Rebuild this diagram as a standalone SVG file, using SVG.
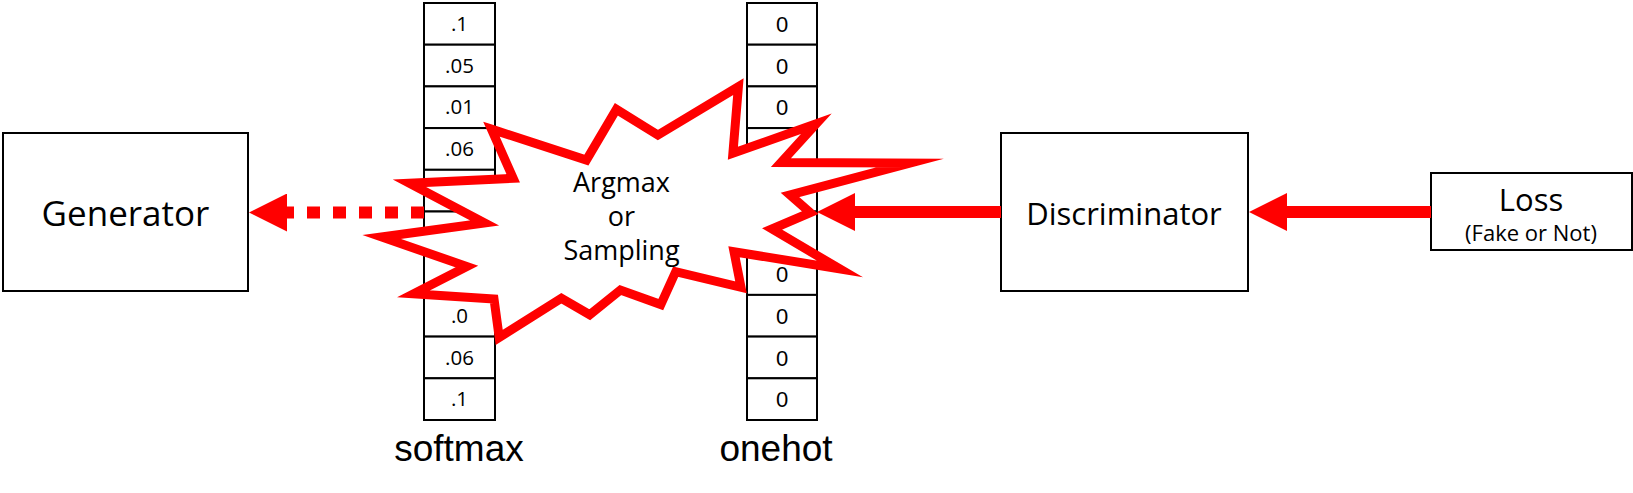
<svg xmlns="http://www.w3.org/2000/svg" width="1633" height="493" viewBox="0 0 1633 493">
<style>
.box{fill:#fff;stroke:#000;stroke-width:2}
.cell{fill:#fff;stroke:#000;stroke-width:2}
.seg{font-family:"Open Sans","Noto Sans",sans-serif;fill:#000;text-anchor:middle}
.ari{font-family:"Liberation Sans",Arial,sans-serif;fill:#000;text-anchor:middle}
.burst{fill:#fff;stroke:#ff0000;stroke-width:9;stroke-linejoin:miter;stroke-miterlimit:20}
.conn{stroke:#ff0000;stroke-width:12;fill:none}
</style>
<defs>
<marker id="ah" markerUnits="userSpaceOnUse" markerWidth="38" markerHeight="38" refX="0" refY="19" orient="auto" viewBox="0 0 38 38">
<path d="M0,0 L38,19 L0,38 z" fill="#ff0000"/>
</marker>
</defs>

<g id="generator">
<rect class="box" x="3" y="133" width="245" height="158"/>
<text class="seg" x="125.5" y="226" font-size="35">Generator</text>
</g>

<g id="softmax">
<rect class="cell" x="424" y="3" width="71" height="41.7"/>
<rect class="cell" x="424" y="44.7" width="71" height="41.7"/>
<rect class="cell" x="424" y="86.4" width="71" height="41.7"/>
<rect class="cell" x="424" y="128.1" width="71" height="41.7"/>
<rect class="cell" x="424" y="169.8" width="71" height="41.7"/>
<rect class="cell" x="424" y="211.5" width="71" height="41.7"/>
<rect class="cell" x="424" y="253.2" width="71" height="41.7"/>
<rect class="cell" x="424" y="294.9" width="71" height="41.7"/>
<rect class="cell" x="424" y="336.6" width="71" height="41.7"/>
<rect class="cell" x="424" y="378.3" width="71" height="41.7"/>
<g class="seg" font-size="20.5">
<text x="459.5" y="31">.1</text>
<text x="459.5" y="72.7">.05</text>
<text x="459.5" y="114.4">.01</text>
<text x="459.5" y="156.1">.06</text>
<text x="459.5" y="322.9">.0</text>
<text x="459.5" y="364.6">.06</text>
<text x="459.5" y="406.3">.1</text>
</g>
<text class="ari" x="459" y="461" font-size="37">softmax</text>
</g>

<g id="onehot">
<rect class="cell" x="747" y="3" width="70" height="41.7"/>
<rect class="cell" x="747" y="44.7" width="70" height="41.7"/>
<rect class="cell" x="747" y="86.4" width="70" height="41.7"/>
<rect class="cell" x="747" y="128.1" width="70" height="41.7"/>
<rect class="cell" x="747" y="169.8" width="70" height="41.7"/>
<rect class="cell" x="747" y="211.5" width="70" height="41.7"/>
<rect class="cell" x="747" y="253.2" width="70" height="41.7"/>
<rect class="cell" x="747" y="294.9" width="70" height="41.7"/>
<rect class="cell" x="747" y="336.6" width="70" height="41.7"/>
<rect class="cell" x="747" y="378.3" width="70" height="41.7"/>
<g class="ari" font-size="22">
<text x="782" y="32">0</text>
<text x="782" y="73.7">0</text>
<text x="782" y="115.4">0</text>
<text x="782" y="282.2">0</text>
<text x="782" y="323.9">0</text>
<text x="782" y="365.6">0</text>
<text x="782" y="407.3">0</text>
</g>
<text class="ari" x="776" y="461" font-size="37">onehot</text>
</g>

<g id="argmax">
<polygon class="burst" points="491.4,129.1 586.4,160 616.4,109.3 657.9,135 738.4,86.6 732.9,153.3 816.3,123.7 781,162.5 910,163 790,195 810.2,212.7 772,229 840,269 734,251.7 741,287.3 675.7,271.7 660.8,304.5 620.4,290 589.7,314.7 561.4,298.3 499.2,337.4 494,299 413.6,293.8 466.8,266.5 381.7,237 484.6,223 409.4,183.3 513.2,178.3"/>
<text class="seg" x="621.5" y="192" font-size="27">Argmax</text>
<text class="seg" x="621.5" y="226" font-size="27">or</text>
<text class="seg" x="621.5" y="260" font-size="27">Sampling</text>
</g>

<g id="discriminator">
<rect class="box" x="1001" y="133" width="247" height="158"/>
<text class="seg" x="1124" y="225" font-size="31">Discriminator</text>
</g>

<g id="loss">
<rect class="box" x="1431" y="173" width="201" height="77"/>
<text class="seg" x="1531" y="211" font-size="31">Loss</text>
<text class="seg" x="1531" y="241" font-size="22">(Fake or Not)</text>
</g>

<g id="connectors">
<line class="conn" x1="424" y1="212.5" x2="287" y2="212.5" stroke-width="13" stroke-dasharray="13 13" marker-end="url(#ah)"/>
<line class="conn" x1="1001" y1="212" x2="855" y2="212" marker-end="url(#ah)"/>
<line class="conn" x1="1431" y1="212" x2="1287" y2="212" marker-end="url(#ah)"/>
</g>
</svg>
